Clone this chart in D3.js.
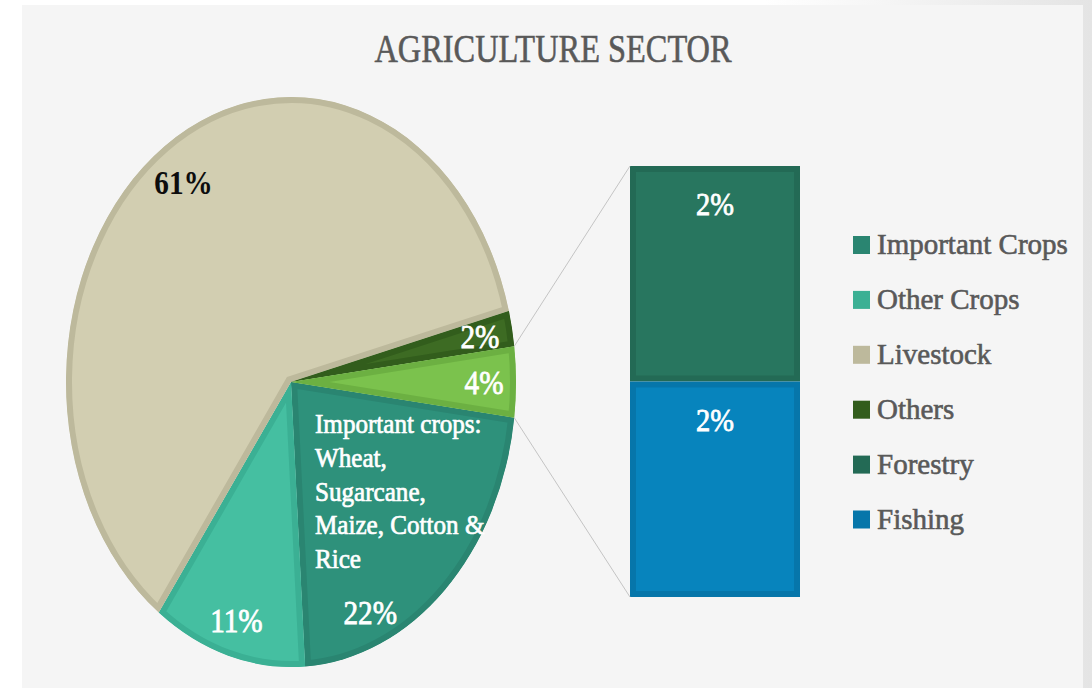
<!DOCTYPE html>
<html>
<head>
<meta charset="utf-8">
<script src="https://cdn.jsdelivr.net/npm/d3@7"></script>
<style>
  html, body { margin: 0; padding: 0; background: #ffffff; }
  svg { display: block; }
  text { font-family: "Liberation Serif", "DejaVu Serif", serif; }
</style>
</head>
<body>
<script>
// ---------------- data ----------------
const chartTitle = "AGRICULTURE SECTOR";
const pieCategories = ["Important Crops", "Other Crops", "Livestock", "Others", "Forestry & Fishing"];
const pieValues = [22, 11, 61, 2, 4];
const pieLabels = ["22%", "11%", "61%", "2%", "4%"];
const barCategories = ["Forestry", "Fishing"];
const barValues = [2, 2];
const barLabels = ["2%", "2%"];
const legendLabels = ["Important Crops", "Other Crops", "Livestock", "Others", "Forestry", "Fishing"];
const cropNoteLines = ["Important crops:", "Wheat,", "Sugarcane,", "Maize, Cotton &", "Rice"];

// ---------------- styles ----------------
const pieFill = ["#2e917b", "#45bfa1", "#d2ceb1", "#3d6b23", "#7bc24d"];
const pieEdge = ["#2a8571", "#3bb094", "#bdb99c", "#325d1c", "#6cb042"];
const barFill = ["#28765f", "#0784bd"];
const barEdge = ["#236a55", "#0676aa"];
const legendColors = [pieEdge[0], pieEdge[1], pieEdge[2], pieEdge[3], barEdge[0], barEdge[1]];
const labelColors = ["#ffffff", "#ffffff", "#0d0d0d", "#ffffff", "#ffffff"];
const labelWeights = ["normal", "normal", "bold", "normal", "normal"];
const labelAngleShift = [19.6, 0, 0, 0, 0];
const labelRadius = [0.88, 0.87, 0.85, 0.855, 0.858];

const W = 1092, H = 688;
const svg = d3.select("body").append("svg").attr("width", W).attr("height", H);

const defs = svg.append("defs");
const grad = defs.append("linearGradient").attr("id", "bgGrad").attr("x1", "0").attr("x2", "1").attr("y1", "0").attr("y2", "0");
grad.append("stop").attr("offset", "0.7").attr("stop-color", "#ffffff");
grad.append("stop").attr("offset", "1").attr("stop-color", "#e4e4e4");
svg.append("rect").attr("width", W).attr("height", H).attr("fill", "url(#bgGrad)");
svg.append("rect").attr("x", 22).attr("y", 5).attr("width", 1061).attr("height", 683).attr("fill", "#f5f5f5");

// title
svg.append("text")
  .attr("transform", "translate(553,62) scale(0.79,1)")
  .attr("text-anchor", "middle")
  .attr("fill", "#595959")
  .attr("stroke", "#595959").attr("stroke-width", 0.6)
  .style("font-size", "41px")
  .text(chartTitle);

// ---------------- pie ----------------
const cx = 291, cy = 382, R = 225, sy = 285 / 225;
const total = d3.sum(pieValues);
const lastFrac = pieValues[pieValues.length - 1] / total;
const start = Math.PI / 2 + Math.PI * lastFrac;
const pie = d3.pie().sort(null).value(d => d).startAngle(start).endAngle(start + 2 * Math.PI);
const arcs = pie(pieValues);
const arc = d3.arc().innerRadius(0).outerRadius(R);

const pg = svg.append("g").attr("transform", `translate(${cx},${cy}) scale(1,${sy})`);
arcs.forEach((d, i) => {
  defs.append("clipPath").attr("id", "pclip" + i)
    .append("path").attr("d", arc(d));
});
pg.selectAll("path.slice").data(arcs).join("path")
  .attr("class", "slice")
  .attr("d", arc)
  .attr("fill", (d, i) => pieFill[i])
  .attr("stroke", (d, i) => pieEdge[i])
  .attr("stroke-width", 12)
  .attr("vector-effect", "non-scaling-stroke")
  .attr("clip-path", (d, i) => `url(#pclip${i})`);

// pie labels
arcs.forEach((d, i) => {
  const a = (d.startAngle + d.endAngle) / 2 + labelAngleShift[i] * Math.PI / 180;
  const r = R * labelRadius[i];
  const x = cx + r * Math.sin(a);
  const y = cy - r * Math.cos(a) * sy;
  svg.append("text")
    .attr("transform", `translate(${x},${y}) scale(0.86,1)`)
    .attr("text-anchor", "middle")
    .attr("dy", "0.35em")
    .attr("fill", labelColors[i])
    .attr("stroke", labelColors[i]).attr("stroke-width", labelWeights[i] === "bold" ? 0 : 0.8)
    .style("font-weight", labelWeights[i])
    .style("font-size", "34px")
    .text(pieLabels[i]);
});

// important crops note
cropNoteLines.forEach((line, k) => {
  svg.append("text")
    .attr("transform", `translate(${cx + 24},${cy + 51 + k * 33.8}) scale(0.93,1)`)
    .attr("fill", "#ffffff")
    .attr("stroke", "#ffffff").attr("stroke-width", 0.7)
    .style("font-size", "27px")
    .text(line);
});

// ---------------- secondary bar ----------------
const barX = 630, barW = 170;
const barTotal = d3.sum(barValues);
const yScale = d3.scaleLinear().domain([0, barTotal]).range([597, 166]);
// first category on top: cumulative from the bottom
const segs = [];
let acc = 0;
for (let i = barValues.length - 1; i >= 0; i--) {
  segs[i] = { y0: acc, y1: acc + barValues[i] };
  acc += barValues[i];
}
const bg = svg.append("g");
segs.forEach((s, i) => {
  const top = yScale(s.y1), bot = yScale(s.y0);
  bg.append("rect").attr("x", barX).attr("y", top).attr("width", barW).attr("height", bot - top)
    .attr("fill", barEdge[i]);
  bg.append("rect").attr("x", barX + 6).attr("y", top + 6).attr("width", barW - 12).attr("height", bot - top - 12)
    .attr("fill", barFill[i]);
  svg.append("text")
    .attr("transform", `translate(${barX + barW / 2},${top + 49}) scale(0.89,1)`)
    .attr("text-anchor", "middle")
    .attr("fill", "#ffffff")
    .attr("stroke", "#ffffff").attr("stroke-width", 0.8)
    .style("font-size", "32px")
    .text(barLabels[i]);
});

// connector lines
const comb = arcs[arcs.length - 1];
const pt = a => [cx + R * Math.sin(a), cy - R * Math.cos(a) * sy];
const pA = pt(comb.startAngle), pB = pt(comb.endAngle);
svg.append("line").attr("x1", pA[0]).attr("y1", pA[1]).attr("x2", barX).attr("y2", yScale(barTotal))
  .attr("stroke", "#c4c4c4").attr("stroke-width", 1);
svg.append("line").attr("x1", pB[0]).attr("y1", pB[1]).attr("x2", barX).attr("y2", yScale(0))
  .attr("stroke", "#c4c4c4").attr("stroke-width", 1);

// ---------------- legend ----------------
const lg = svg.append("g");
legendLabels.forEach((lab, i) => {
  const by = 254 + i * 54.9;
  lg.append("rect").attr("x", 853).attr("y", by - 18).attr("width", 17).attr("height", 18)
    .attr("fill", legendColors[i]);
  lg.append("text").attr("x", 877).attr("y", by)
    .attr("fill", "#595959")
    .attr("stroke", "#595959").attr("stroke-width", 0.6)
    .style("font-size", "29px")
    .text(lab);
});
</script>
</body>
</html>
